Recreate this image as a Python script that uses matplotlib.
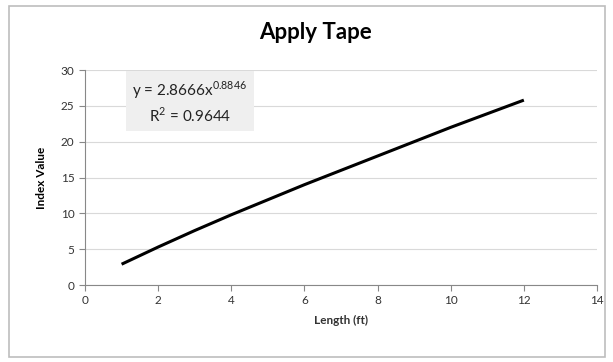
import matplotlib.pyplot as plt
from matplotlib.patches import Rectangle

# values
length_ft = [1, 2, 3, 4, 5, 6, 7, 8, 9, 10, 11, 12]
index_value = [2.9, 5.3, 7.6, 9.8, 11.9, 14.0, 16.0, 18.0, 20.0, 22.0, 23.9, 25.8]
x_ticks = [0, 2, 4, 6, 8, 10, 12, 14]
y_ticks = [0, 5, 10, 15, 20, 25, 30]

plt.rcParams['font.family'] = ['Lato', 'DejaVu Sans']
plt.rcParams['mathtext.fontset'] = 'custom'
plt.rcParams['mathtext.rm'] = 'Lato'

fig = plt.figure(figsize=(6.13, 3.62), dpi=100)
ax = fig.add_axes([0.1387, 0.2127, 0.8352, 0.5939])

# outer chart border
fig.patches.append(Rectangle((0.015, 0.015), 0.972, 0.968, transform=fig.transFigure,
                             fill=False, edgecolor="#bdbdbd", linewidth=1.2))

ax.plot(length_ft, index_value, color="black", linewidth=2.2, solid_capstyle="butt")

ax.set_xlim(0, 14)
ax.set_ylim(0, 30)
ax.set_xticks(x_ticks)
ax.set_yticks(y_ticks)
ax.grid(axis="y", color="#d9d9d9", linewidth=0.8)
ax.set_axisbelow(True)
for s in ["top", "right"]:
    ax.spines[s].set_visible(False)
for s in ["left", "bottom"]:
    ax.spines[s].set_color("#888888")
ax.tick_params(colors="#888888", labelcolor="#333333", labelsize=8.5, length=4, direction="out")

ax.set_xlabel("Length (ft)", fontsize=8.5, fontweight="bold", color="#333333", labelpad=6)
ax.set_ylabel("Index Value", fontsize=8.5, fontweight="bold", color="black", labelpad=10)
fig.suptitle("Apply Tape", x=0.515, y=0.94, fontsize=16, fontweight="bold")

ax.text(0.205, 0.85, "y = 2.8666x$^{\\mathrm{0.8846}}$\nR$^{\\mathrm{2}}$ = 0.9644", transform=ax.transAxes,
        ha="center", va="center", fontsize=11, color="#222222", linespacing=1.3,
        bbox=dict(boxstyle="square,pad=0.4", facecolor="#efefef", edgecolor="none"))

fig.savefig("out.png", dpi=100)
